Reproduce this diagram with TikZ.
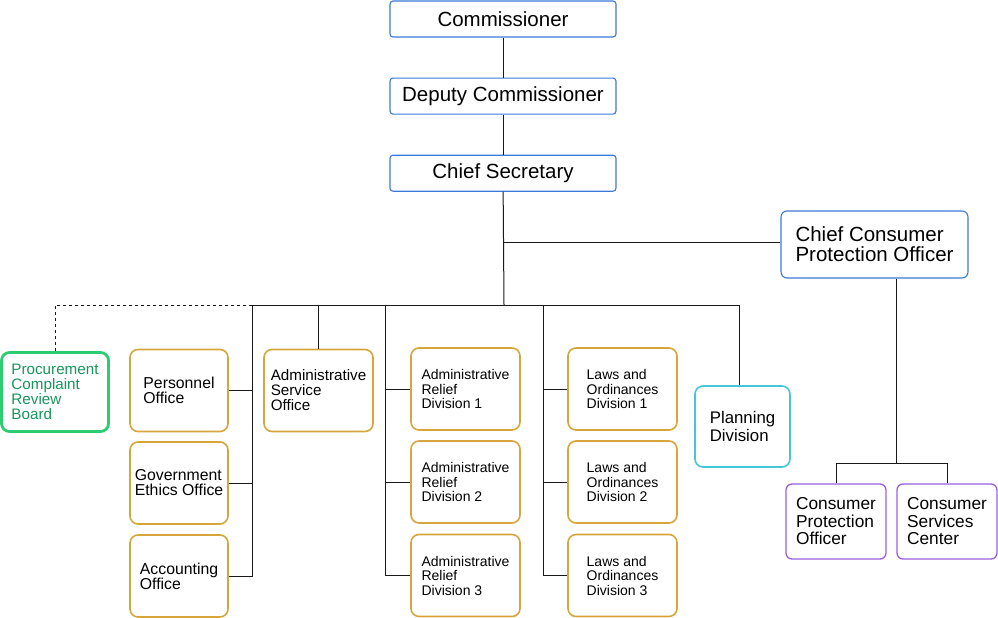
\documentclass[tikz,border=0pt]{standalone}
\usepackage{fontspec}
\setmainfont{Liberation Sans}
\usetikzlibrary{positioning}

\begin{document}
\begin{tikzpicture}[x=1pt, y=-1pt,
    head/.style={draw=headblue, line width=1.1pt, rounded corners=3pt,
                 minimum width=226pt, minimum height=36pt,
                 font=\fontsize{20.5}{20}\selectfont},
    unit/.style={draw=unitgold, line width=1.6pt, rounded corners=8pt,
                 minimum width=98pt, minimum height=82pt, align=left,
                 font=\fontsize{15.8}{15}\selectfont},
    div/.style={unit, minimum width=109pt,
                font=\fontsize{14}{14.5}\selectfont},
    cons/.style={draw=consviolet, line width=1.3pt, rounded corners=6pt,
                 minimum width=100pt, minimum height=75pt, align=left,
                 font=\fontsize{17.3}{17.5}\selectfont},
    link/.style={line width=1pt, black!90}
]
\definecolor{headblue}{HTML}{3C78D8}
\definecolor{unitgold}{HTML}{D8A53A}
\definecolor{boardgreen}{HTML}{2ECC71}
\definecolor{boardtext}{HTML}{16965A}
\definecolor{plancyan}{HTML}{45C6D6}
\definecolor{consviolet}{HTML}{9B5DE0}

\useasboundingbox (0,0) rectangle (998,618);

% Leitungsebene
\node[head] (comm) at (503,19) {Commissioner};
\node[head, below=40pt of comm] (dep) {Deputy Commissioner};
\node[head, below=40pt of dep] (sec) {Chief Secretary};
\node[head, minimum width=187pt, minimum height=67pt, rounded corners=6pt,
      align=left] (ccpo) at (874.5,244.5) {Chief Consumer\\Protection Officer};

% Abteilungen
\node[unit, draw=boardgreen, line width=2.8pt, text=boardtext,
      minimum width=107pt, minimum height=79pt,
      font=\fontsize{15.2}{15}\selectfont] (proc) at (55,392)
      {Procurement\\Complaint\\Review\\Board};
\node[unit] (pers) at (179,390.5) {Personnel\\Office};
\node[unit] (ethic) at (179,483) {Government\\Ethics Office};
\node[unit] (acct) at (179,576) {Accounting\\Office};
\node[div, font=\fontsize{15.2}{15}\selectfont] (aso) at (318.5,390.5)
      {Administrative\\Service\\Office};
\node[div] (ard1) at (465.5,389) {Administrative\\Relief\\Division 1};
\node[div] (ard2) at (465.5,482) {Administrative\\Relief\\Division 2};
\node[div] (ard3) at (465.5,575.5) {Administrative\\Relief\\Division 3};
\node[div] (lod1) at (622.5,389) {Laws and\\Ordinances\\Division 1};
\node[div] (lod2) at (622.5,482) {Laws and\\Ordinances\\Division 2};
\node[div] (lod3) at (622.5,575.5) {Laws and\\Ordinances\\Division 3};
\node[unit, draw=plancyan, minimum width=95pt, minimum height=81pt,
      font=\fontsize{16.8}{18}\selectfont] (plan) at (742.5,426.5)
      {Planning\\Division};
\node[cons] (cpo) at (836,521.5) {Consumer\\Protection\\Officer};
\node[cons] (csc) at (947,521.5) {Consumer\\Services\\Center};

% Verbindungen
\coordinate (bus) at (504,305);
\coordinate (busL) at (252,305);
\coordinate (busR) at (739,305);
\coordinate (ardbus) at (385,305);
\coordinate (lodbus) at (543,305);
\coordinate (jc) at (504,242);
\coordinate (cj) at (896,463);

\draw[link] (comm) -- (dep);
\draw[link] (dep) -- (sec);
\draw[link] (sec) -- (bus);
\draw[link] (jc) -- (jc -| ccpo.west);
\draw[link] (busL) -- (busR) -- (busR |- plan.north);
\draw[link, dashed] (busL) -- (proc.north |- busL) -- (proc.north);

\draw[link] (busL) -- (busL |- acct.east) -- (acct.east);
\draw[link] (pers.east) -- (pers.east -| busL);
\draw[link] (ethic.east) -- (ethic.east -| busL);
\draw[link] (aso.north |- busL) -- (aso.north);

\draw[link] (ardbus) -- (ardbus |- ard3.west) -- (ard3.west);
\draw[link] (ardbus |- ard1.west) -- (ard1.west);
\draw[link] (ardbus |- ard2.west) -- (ard2.west);

\draw[link] (lodbus) -- (lodbus |- lod3.west) -- (lod3.west);
\draw[link] (lodbus |- lod1.west) -- (lod1.west);
\draw[link] (lodbus |- lod2.west) -- (lod2.west);

\draw[link] (ccpo.south -| cj) -- (cj);
\draw[link] (cpo.north) -- (cpo.north |- cj) -- (csc.north |- cj) -- (csc.north);
\end{tikzpicture}
\end{document}
